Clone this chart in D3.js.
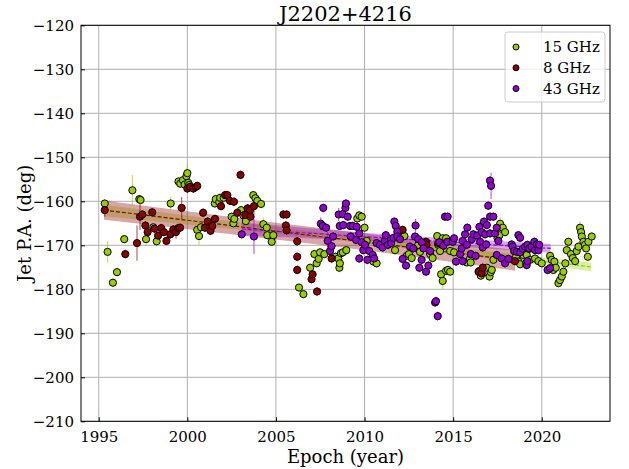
<!DOCTYPE html>
<html><head><meta charset="utf-8">
<script src="https://cdn.jsdelivr.net/npm/d3@7"></script>
<style>
html,body{margin:0;padding:0;background:#fff;}
svg{display:block;font-family:"DejaVu Serif",serif;}
</style></head>
<body><svg id="c" width="629" height="469"></svg>
<script>
// ---------- DATA ----------
const title = "J2202+4216";
const seriesNames = ["15 GHz", "8 GHz", "43 GHz"];
const seriesColors = ["#9acd00", "#8b0000", "#9400d3"];
const yTicks = [-210,-200,-190,-180,-170,-160,-150,-140,-130,-120];
const xTicks = [1995,2000,2005,2010,2015,2020];

// [epoch, PA, error]
const data15 = [
[1995.34,-160.5,1],[1995.5,-171.5,2.5],[1995.8,-178.5,1],[1996.03,-176.1,1],[1996.44,-168.6,1],[1996.9,-157.5,3.5],
[1997.29,-159.5,1],[1997.36,-159.7,1],[1997.67,-168.6,1.5],[1998.08,-165.9,1],[1998.27,-169.1,1],[1999.06,-160.5,1.5],
[1999.5,-155.5,1],[1999.6,-156.0,1],[1999.75,-155.2,1],[1999.85,-156.2,1],[1999.95,-154.3,1],[2000.0,-153.6,2],[2000.05,-155.8,1],[2000.1,-156.3,1],
[2000.56,-166.5,1],[2000.66,-167.9,2],[2000.77,-165.9,1],
[2001.55,-160.5,1],[2001.6,-159.5,1],[2001.8,-160.2,1],[2001.85,-159.2,1],[2002.05,-159.2,1],
[2002.5,-163.5,1],[2002.6,-165.0,1],[2002.65,-164.0,1],
[2003.03,-162.0,1],[2003.16,-163.2,1],[2003.3,-164.5,1],
[2003.72,-158.6,1],[2003.84,-159.3,1],[2003.95,-159.9,1],[2004.16,-160.6,1],
[2004.29,-165.2,1.5],[2004.48,-166.0,1],[2004.51,-167.7,1],[2004.76,-169.2,1],[2004.85,-167.7,1],
[2006.3,-179.6,1],[2006.55,-181.1,1],[2006.93,-175.1,1],
[2007.17,-172.0,1],[2007.3,-174.1,1],[2007.41,-173.1,1],[2007.49,-171.6,1],[2007.73,-172.0,1],
[2008.37,-172.6,1],[2008.52,-173.0,1],[2008.58,-175.1,1],[2008.61,-174.1,1],[2008.67,-171.8,1],[2008.77,-171.6,1],[2008.97,-171.1,1],
[2009.59,-163.9,1],[2009.7,-163.2,1],[2009.84,-163.5,1],
[2010.0,-166.0,1],[2010.12,-169.0,1],[2010.5,-173.7,1],[2010.68,-174.1,1],
[2011.72,-171.1,1],[2012.25,-167.9,1],[2012.38,-172.4,1],[2012.5,-172.0,1],[2012.66,-172.9,1],
[2013.03,-169.9,1],[2013.13,-171.5,1],[2013.7,-172.0,1],[2013.84,-172.9,1],[2014.1,-167.9,1],[2014.16,-169.9,1],[2014.26,-171.3,1],[2014.41,-168.4,1],[2014.6,-168.4,1],
[2014.32,-176.6,1],[2014.41,-178.1,2],[2014.6,-175.8,1],[2014.71,-175.6,1],
[2014.83,-171.3,1],[2014.83,-176.0,1],[2015.05,-171.6,1],[2015.77,-173.9,1],[2015.95,-173.0,1],[2015.99,-173.9,1],
[2016.48,-175.8,1],[2016.56,-176.9,1],[2016.86,-176.1,1],[2016.9,-175.1,1],[2017.05,-177.1,1],[2017.12,-176.1,1],[2017.18,-175.6,1],[2017.27,-173.3,1],
[2017.5,-168.4,1],[2017.61,-167.7,1],[2017.65,-165.1,1.5],[2017.8,-166.0,1],[2017.93,-167.0,1],
[2018.4,-173.3,1],[2018.55,-172.6,1],[2018.68,-173.7,1],[2018.78,-174.3,1],[2018.96,-172.2,1],[2019.11,-174.1,1],
[2019.15,-172.2,1],[2019.34,-173.3,1],[2019.62,-173.0,1],[2019.81,-173.6,1],[2020.0,-174.1,1],
[2020.47,-172.4,1],[2020.56,-173.3,1],[2020.65,-175.6,1],[2020.71,-173.7,1],[2020.79,-175.1,1],
[2020.94,-178.6,1],[2021.03,-177.9,1],[2021.13,-177.1,1],[2021.22,-176.0,1],
[2021.33,-174.1,1],[2021.41,-171.1,1],[2021.5,-169.2,1],[2021.65,-172.0,1],[2021.75,-172.9,1],[2021.88,-173.6,1],[2021.97,-171.3,1],[2022.07,-170.3,1],
[2022.16,-166.0,1.5],[2022.22,-167.0,1],[2022.26,-168.0,1],[2022.35,-169.2,1],[2022.44,-169.9,1],[2022.5,-170.7,1],[2022.6,-172.6,1],[2022.63,-169.2,1],[2022.82,-168.0,1]
];
const data8 = [
[1995.34,-162.0,1.5],[1996.5,-172.0,1],[1997.16,-169.5,4],[1997.33,-163.5,3],[1997.46,-163.0,1],[1997.63,-165.5,1],[1997.76,-167.0,1],
[1998.02,-162.5,1],[1998.14,-166.2,1],[1998.35,-167.8,1],[1998.53,-166.1,1],[1998.68,-167.0,1],[1998.82,-169.0,1],[1999.04,-167.5,1],
[1999.21,-166.4,1],[1999.36,-167.0,1.5],[1999.49,-166.1,1],[1999.59,-166.0,1],[1999.68,-161.5,2.5],
[2000.0,-157.1,1],[2000.15,-156.7,1],[2000.34,-157.1,1],[2000.49,-156.7,1],[2000.56,-156.5,1],
[2000.89,-162.6,1],[2000.99,-166.0,1],[2001.15,-164.6,1],[2001.28,-165.8,1],[2001.31,-166.7,1],[2001.41,-165.6,1],[2001.56,-164.0,1],
[2001.9,-161.1,1],[2002.13,-158.6,1],[2002.26,-158.6,1],[2002.41,-159.9,1],[2002.63,-160.1,1],
[2002.82,-162.6,1],[2003.0,-154.0,1],[2003.27,-163.1,1],[2003.4,-161.6,1],[2003.54,-162.0,1],[2003.57,-163.5,1],[2003.76,-161.1,2],
[2005.42,-163.0,1],[2005.6,-163.0,1],[2005.56,-165.5,1],[2005.6,-166.6,1],
[2006.2,-169.1,1],[2006.2,-172.6,1],[2006.2,-175.6,1],[2007.01,-177.7,1],[2007.07,-176.6,1],[2007.32,-180.5,1],[2008.14,-173.0,1],
[2012.15,-166.5,1],[2013.47,-169.2,1],[2013.5,-169.9,1],[2014.16,-169.5,1],
[2016.43,-176.0,1],[2016.61,-176.4,1],[2016.67,-175.1,1],[2018.49,-173.6,1]
];
const data43 = [
[2003.07,-167.5,1],[2003.76,-168.0,4],
[2007.53,-165.1,1.5],[2007.64,-165.6,1],[2007.67,-161.5,1],[2007.83,-166.0,1],[2007.92,-169.0,2],[2008.05,-171.3,1],[2008.14,-170.2,1],[2008.23,-168.0,1],
[2008.54,-163.0,1.5],[2008.6,-165.6,1],[2008.77,-162.9,1],[2008.8,-165.4,1],[2008.92,-161.5,1],[2008.95,-160.5,1],[2009.05,-163.5,1],[2009.18,-165.6,1],
[2009.22,-168.0,1],[2009.33,-165.6,1],[2009.52,-168.8,1],[2009.56,-165.8,1],[2009.7,-167.3,1],[2009.7,-173.0,1],
[2009.84,-169.3,1],[2009.93,-171.1,1],[2010.03,-169.9,1],[2010.16,-173.3,1],[2010.27,-171.3,1],[2010.46,-172.2,1],[2010.54,-173.0,1],
[2010.68,-169.5,1],[2010.87,-169.9,1],[2011.02,-170.5,1],[2011.14,-169.0,1],[2011.2,-167.7,1],[2011.32,-169.9,1],[2011.5,-169.5,1],[2011.63,-168.3,1],
[2011.68,-164.6,1],[2011.76,-165.6,1],[2011.85,-166.9,1],[2011.85,-168.0,1],[2012.0,-168.6,1],
[2012.15,-173.1,1],[2012.34,-174.6,1],[2012.56,-170.3,1],[2012.75,-170.7,1],[2012.85,-168.0,1],[2012.88,-165.5,1.5],[2013.03,-168.6,1],[2013.09,-175.1,1],
[2013.22,-169.3,1],[2013.22,-173.3,1],[2013.32,-170.7,1],[2013.47,-176.0,1],[2013.6,-174.6,1],[2013.7,-171.3,1],
[2013.98,-183.0,1],[2014.03,-182.7,1],[2014.13,-186.1,1],[2014.22,-169.3,1],[2014.45,-170.1,1],[2014.54,-163.5,1],[2014.67,-169.2,1],[2014.69,-163.5,1],
[2014.98,-169.2,1],[2015.05,-168.4,1],[2015.16,-173.7,1],[2015.39,-172.0,1],[2015.48,-170.7,1],[2015.54,-169.0,1],[2015.54,-173.6,1],[2015.67,-167.5,1],
[2015.77,-169.9,1],[2015.8,-166.0,1],[2015.99,-172.0,1],[2016.05,-168.6,1],[2016.14,-167.5,1],[2016.27,-172.4,1],[2016.36,-167.8,1],[2016.48,-165.8,1],
[2016.52,-169.2,1],[2016.61,-167.0,1],[2016.67,-170.5,1],[2016.74,-164.6,1],[2016.8,-167.5,1],[2016.86,-169.8,1],[2016.9,-165.4,1],[2016.98,-161.0,1],
[2017.08,-155.3,1],[2017.14,-156.5,3],[2017.08,-163.5,1],[2017.27,-163.5,1],[2017.08,-167.3,1],[2017.36,-167.3,1],[2017.46,-166.0,1],[2017.46,-172.2,1],
[2017.55,-169.0,1],[2017.74,-173.0,1],[2017.93,-174.1,1],[2018.11,-173.1,1],[2018.3,-169.8,1],[2018.36,-170.3,1],[2018.44,-171.3,1],[2018.6,-171.5,1],
[2018.68,-167.7,1],[2018.78,-168.3,1],[2018.78,-171.6,1],[2018.93,-170.8,1],[2019.06,-170.3,1],[2019.15,-174.5,1],[2019.19,-169.9,1],[2019.19,-173.6,1],
[2019.28,-170.8,1],[2019.3,-170.7,1],[2019.43,-170.3,1],[2019.58,-169.2,1],[2019.62,-171.1,1],[2019.72,-169.8,1],[2019.81,-171.1,1],[2019.85,-169.9,1],
[2020.33,-175.6,1],[2020.47,-175.2,1]
];

// linear fits: epochs, fitted PA, band half-width
const fitYears15 = [1995.3, 2002.2, 2009.05, 2015.9, 2022.8];
const fitPA15    = [-162.1, -165.3, -168.5, -171.7, -174.9];
const fitHalf15  = [1.3, 0.9, 0.6, 0.8, 1.0];
const fitYears8  = [1995.3, 2001.1, 2006.9, 2012.7, 2018.5];
const fitPA8     = [-162.0, -164.85, -167.7, -170.55, -173.4];
const fitHalf8   = [2.2, 2.0, 1.9, 2.0, 2.4];
const fitYears43 = [2003.07, 2007.43, 2011.8, 2016.15, 2020.5];
const fitPA43    = [-166.3, -167.4, -168.5, -169.6, -170.7];
const fitHalf43  = [1.5, 1.1, 0.8, 0.9, 1.0];

// ---------- CHART ----------
const W = 629, H = 469;
const L = 81, R = 610, T = 25.3, B = 421.3;
const svg = d3.select("#c");
const x = d3.scaleLinear().domain([1994.0, 2023.85]).range([L, R]);
const y = d3.scaleLinear().domain([-210, -120]).range([B, T]);

// grid
const g = svg.append("g");
g.selectAll(".gx").data(xTicks).join("line")
  .attr("x1", d => x(d)).attr("x2", d => x(d)).attr("y1", T).attr("y2", B)
  .attr("stroke", "#b0b0b0").attr("stroke-width", 1);
g.selectAll(".gy").data(yTicks).join("line")
  .attr("y1", d => y(d)).attr("y2", d => y(d)).attr("x1", L).attr("x2", R)
  .attr("stroke", "#b0b0b0").attr("stroke-width", 1);

const clip = svg.append("clipPath").attr("id","pc").append("rect")
  .attr("x", L).attr("y", T).attr("width", R-L).attr("height", B-T);
const plot = svg.append("g").attr("clip-path","url(#pc)");

const fits = [
  {yrs: fitYears15, pa: fitPA15, hw: fitHalf15, c: seriesColors[0]},
  {yrs: fitYears8,  pa: fitPA8,  hw: fitHalf8,  c: seriesColors[1]},
  {yrs: fitYears43, pa: fitPA43, hw: fitHalf43, c: seriesColors[2]}
];
const area = d3.area().x(d => x(d.t)).y0(d => y(d.p - d.h)).y1(d => y(d.p + d.h)).curve(d3.curveMonotoneX);
const line = d3.line().x(d => x(d.t)).y(d => y(d.p));
fits.forEach(f => {
  const pts = f.yrs.map((t, i) => ({t, p: f.pa[i], h: f.hw[i]}));
  plot.append("path").attr("d", area(pts)).attr("fill", f.c).attr("fill-opacity", 0.35);
});
fits.forEach(f => {
  const pts = f.yrs.map((t, i) => ({t, p: f.pa[i]}));
  plot.append("path").attr("d", line(pts)).attr("fill", "none").attr("stroke", f.c)
    .attr("stroke-width", 1.2).attr("stroke-dasharray", "4,2");
});

const sets = [data15, data8, data43];
sets.forEach((ds, si) => {
  const c = seriesColors[si];
  plot.append("g").selectAll("line").data(ds).join("line")
    .attr("x1", d => x(d[0])).attr("x2", d => x(d[0]))
    .attr("y1", d => y(d[1] - d[2])).attr("y2", d => y(d[1] + d[2]))
    .attr("stroke", c).attr("stroke-opacity", 0.6).attr("stroke-width", 1.2);
});
sets.forEach((ds, si) => {
  const c = seriesColors[si];
  plot.append("g").selectAll("circle").data(ds).join("circle")
    .attr("cx", d => x(d[0])).attr("cy", d => y(d[1])).attr("r", 3.6)
    .attr("fill", c).attr("stroke", "#000").attr("stroke-width", 1);
});

// axes
const xAxis = d3.axisBottom(x).tickValues(xTicks).tickSize(-4).tickPadding(10).tickFormat(d3.format("d"));
const yAxis = d3.axisLeft(y).tickValues(yTicks).tickSize(-4).tickPadding(7).tickFormat(d => (d < 0 ? "\u2212" : "") + Math.abs(d));
const gx = svg.append("g").attr("transform", `translate(0,${B})`).call(xAxis);
const gy = svg.append("g").attr("transform", `translate(${L},0)`).call(yAxis);
[gx, gy].forEach(a => {
  a.select(".domain").remove();
  a.selectAll("text").attr("font-family", "DejaVu Serif").attr("font-size", 15).attr("fill", "#000");
  a.selectAll("line").attr("stroke", "#000");
});
gx.selectAll("text").attr("dy", "0.71em");
svg.append("rect").attr("x", L).attr("y", T).attr("width", R-L).attr("height", B-T)
  .attr("fill", "none").attr("stroke", "#000").attr("stroke-width", 1);

// labels
svg.append("text").attr("x", (L+R)/2).attr("y", 21).attr("text-anchor", "middle")
  .attr("font-size", 21).text(title);
svg.append("text").attr("x", (L+R)/2).attr("y", 463).attr("text-anchor", "middle")
  .attr("font-size", 18).text("Epoch (year)");
svg.append("text").attr("transform", `translate(31,${(T+B)/2}) rotate(-90)`).attr("text-anchor", "middle")
  .attr("font-size", 18).text("Jet P.A. (deg)");

// legend
const lg = svg.append("g");
lg.append("rect").attr("x", 505).attr("y", 32).attr("width", 100).attr("height", 70).attr("rx", 3)
  .attr("fill", "#fff").attr("fill-opacity", 0.8).attr("stroke", "#cccccc");
seriesNames.forEach((n, i) => {
  const yy = 47 + i * 20.8;
  lg.append("circle").attr("cx", 516).attr("cy", yy).attr("r", 3).attr("fill", seriesColors[i])
    .attr("stroke", "#000").attr("stroke-width", 1);
  lg.append("text").attr("x", 543).attr("y", yy + 5.3).attr("font-size", 15).text(n);
});
</script></body></html>
